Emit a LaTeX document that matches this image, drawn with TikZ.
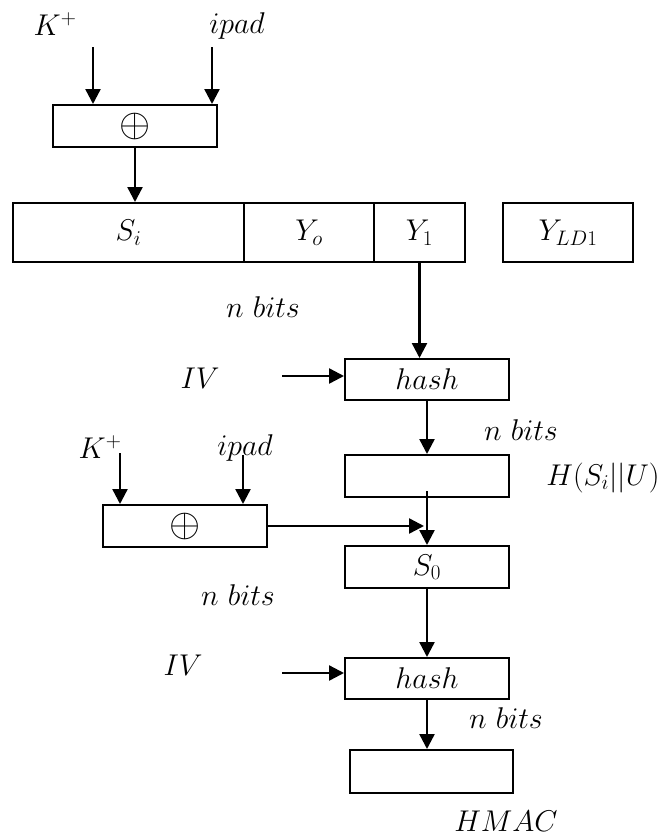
\documentclass[tikz,border=0pt]{standalone}
\usepackage{fix-cm}
\usetikzlibrary{arrows.meta}
\begin{document}
\begin{tikzpicture}[x=1pt,y=-1pt,
  every node/.style={font=\fontsize{30}{36}\selectfont},
  blk/.style={draw,line width=2pt,rectangle,inner sep=0pt,minimum width=164pt,minimum height=41pt},
  xorbox/.style={blk,minimum height=42pt,font=\fontsize{40}{44}\selectfont},
  cell/.style={draw,line width=2pt,rectangle,inner sep=0pt,minimum height=59pt},
  lbl/.style={anchor=base,inner sep=0pt},
  arr/.style={line width=2.4pt,-{Triangle[length=15pt,width=15pt]}}]
\useasboundingbox (0,0) rectangle (660,839);
% top XOR
\node[xorbox] (xor1) at (135,126) {$\oplus$};
\node[lbl] (kp1) at (55,35) {$K^{+}$};
\node[lbl] (ipad1) at (237,33) {$ipad$};
\coordinate (k1s) at (93,47);
\coordinate (i1s) at (212,47);
\draw[arr] (k1s) -- (k1s |- xor1.north);
\draw[arr] (i1s) -- (i1s |- xor1.north);
% row
\node[cell,minimum width=231pt] (si) at (128.5,232.5) {$S_i$};
\node[cell,minimum width=130pt] (yo) at (309,232.5) {$Y_o$};
\node[cell,minimum width=91pt] (y1) at (419.5,232.5) {$Y_1$};
\node[cell,minimum width=130pt] (yld) at (568,232.5) {$Y_{LD1}$};
\draw[arr] (xor1.south) -- (xor1.south |- si.north);
\node[lbl] (nb1) at (263,317) {$n\ bits$};
% first hash
\node[blk] (hash1) at (427,379.5) {$hash$};
\draw[arr] (y1.south) -- (y1.south |- hash1.north);
\node[lbl] (iv1) at (200,388) {$IV$};
\coordinate (iv1s) at (282,376);
\draw[arr] (iv1s) -- (iv1s -| hash1.west);
% box 2
\node[blk,minimum height=42pt] (box2) at (427,476) {};
\draw[arr] (hash1.south) -- (box2.north);
\node[lbl] (nb2) at (521,440) {$n\ bits$};
\node[lbl] (hsu) at (603,485) {$H(S_i||U)$};
% second XOR
\node[xorbox] (xor2) at (185,526) {$\oplus$};
\node[lbl] (kp2) at (100,458) {$K^{+}$};
\node[lbl] (ipad2) at (245,455) {$ipad$};
\coordinate (k2s) at (120,453);
\coordinate (i2s) at (243,455);
\draw[arr] (k2s) -- (k2s |- xor2.north);
\draw[arr] (i2s) -- (i2s |- xor2.north);
% S0
\node[blk,minimum height=42pt] (s0) at (427,567) {$S_0$};
\draw[arr] (xor2.east) -- ([xshift=-3pt]xor2.east -| box2.south);
\draw[arr] ([yshift=7pt]box2.south) -- (s0.north);
\node[lbl] (nb3) at (238,605) {$n\ bits$};
% second hash
\node[blk] (hash2) at (427,678.5) {$hash$};
\draw[arr] (s0.south) -- (hash2.north);
\node[lbl] (iv2) at (183,675) {$IV$};
\coordinate (iv2s) at (282,673);
\draw[arr] (iv2s) -- (iv2s -| hash2.west);
% output
\node[blk,minimum width=163pt,minimum height=43pt] (box4) at (431.5,771.5) {};
\draw[arr] (hash2.south) -- (hash2.south |- box4.north);
\node[lbl] (nb4) at (506,728) {$n\ bits$};
\node[lbl] (hmac) at (506,831) {$HMAC$};
\end{tikzpicture}
\end{document}
